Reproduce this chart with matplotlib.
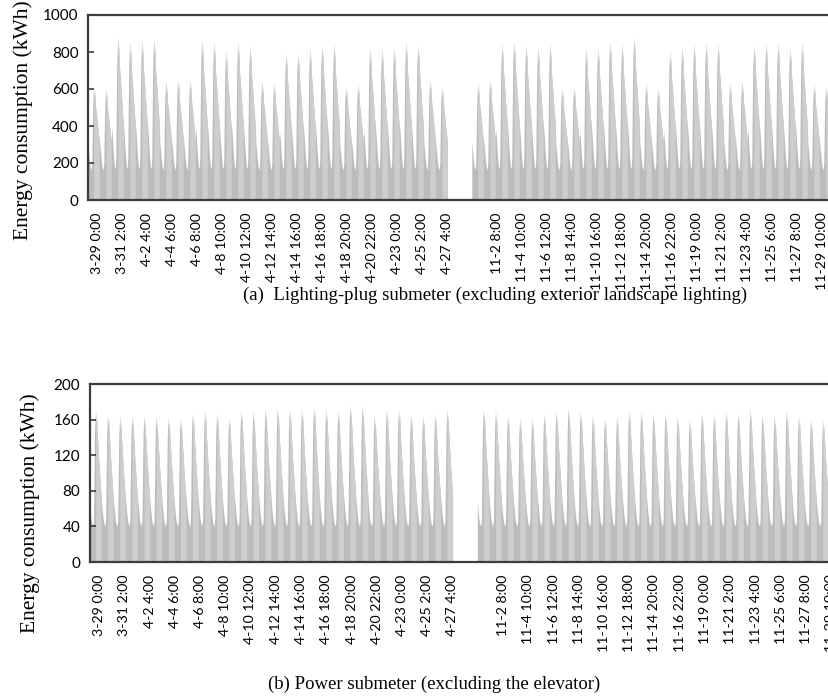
import numpy as np
import matplotlib
matplotlib.use("Agg")
import matplotlib.pyplot as plt
import matplotlib.transforms as mtransforms

# daily peak demand, one value per day
light_spring_peaks = [610, 595, 880, 855, 865, 875, 640, 650, 645, 865, 855, 805, 855, 832, 640,
                      628, 793, 796, 820, 838, 841, 613, 622, 820, 820, 823, 855, 841, 645, 612]
light_autumn_peaks = [630, 648, 847, 860, 838, 829, 841, 604, 609, 820, 823, 861, 841, 883, 630,
                      604, 807, 829, 841, 850, 847, 627, 640, 838, 850, 850, 823, 852, 622, 613]
power_spring_peaks = [170, 165, 163, 164, 164, 163, 162, 161, 167, 169, 167, 162, 170, 169, 172,
                      172, 171, 171, 174, 171, 169, 176, 175, 164, 171, 171, 165, 164, 166, 171]
power_autumn_peaks = [171, 169, 164, 161, 161, 166, 169, 172, 169, 164, 161, 163, 169, 169, 166,
                      167, 163, 159, 167, 166, 169, 167, 171, 165, 164, 169, 164, 160, 159, 157]

# night-time base load and typical hourly shape of one day (0 = base, 1 = daily peak)
light_base = 150
power_base = 38
light_shape = [0.33, 0.27, 0.2, 0.14, 0.09, 0.05, 0.03, 0.03, 0.1, 0.5, 0.82, 0.92,
               1.0, 0.86, 0.94, 0.8, 0.74, 0.69, 0.64, 0.58, 0.52, 0.46, 0.41, 0.37]
power_shape = [0.22, 0.17, 0.12, 0.08, 0.05, 0.03, 0.02, 0.02, 0.08, 0.45, 0.82, 0.93,
               1.0, 0.88, 0.95, 0.84, 0.76, 0.68, 0.6, 0.53, 0.46, 0.4, 0.33, 0.27]

gap_hours = 48  # rows with no data between 4-27 and 11-1

xtick_labels = ["3-29 0:00", "3-31 2:00", "4-2 4:00", "4-4 6:00", "4-6 8:00", "4-8 10:00",
                "4-10 12:00", "4-12 14:00", "4-14 16:00", "4-16 18:00", "4-18 20:00",
                "4-20 22:00", "4-23 0:00", "4-25 2:00", "4-27 4:00", "",
                "11-2 8:00", "11-4 10:00", "11-6 12:00", "11-8 14:00", "11-10 16:00",
                "11-12 18:00", "11-14 20:00", "11-16 22:00", "11-19 0:00", "11-21 2:00",
                "11-23 4:00", "11-25 6:00", "11-27 8:00", "11-29 10:00"]
label_step = 50


def build_series(spring, autumn, base, shape):
    vals = []
    for p in spring:
        vals += [base + (p - base) * s for s in shape]
    vals += [np.nan] * gap_hours
    for p in autumn:
        vals += [base + (p - base) * s for s in shape]
    return np.array(vals)


light = build_series(light_spring_peaks, light_autumn_peaks, light_base, light_shape)
power = build_series(power_spring_peaks, power_autumn_peaks, power_base, power_shape)

W, H = 829, 696
fig = plt.figure(figsize=(W / 100, H / 100), dpi=100)

serif = "Liberation Serif"
sans = "Lato"
dark = "#3c3c3c"


def draw(ax, y, ymax, ystep):
    x = np.arange(len(y))
    ok = ~np.isnan(y)
    ax.fill_between(x, np.nan_to_num(y), where=ok, color="#bcbcbc", linewidth=0)
    stripe = ok & ((x // 12) % 2 == 1)
    ax.fill_between(x, np.nan_to_num(y), where=stripe, color="#cecece", linewidth=0)
    ax.set_xlim(0, 1510)
    ax.set_ylim(0, ymax)
    ax.set_yticks(np.arange(0, ymax + 1, ystep))
    ax.tick_params(axis="y", direction="in", length=4, width=1.2, color=dark, pad=7)
    for lab in ax.get_yticklabels():
        lab.set_fontfamily(sans)
        lab.set_fontsize(11)
    ticks = np.arange(len(xtick_labels)) * label_step
    ax.set_xticks(ticks)
    ax.set_xticklabels(xtick_labels, rotation=90, fontsize=10.2, family=sans)
    ax.tick_params(axis="x", length=0, pad=9)
    shift = mtransforms.ScaledTranslation(0.09, 0, fig.dpi_scale_trans)
    for lab in ax.get_xticklabels():
        lab.set_transform(lab.get_transform() + shift)
    for sp in ax.spines.values():
        sp.set_color(dark)
        sp.set_linewidth(1.6)


ax1 = fig.add_axes([88.3 / W, 1 - 200 / H, 1510 * 0.5 / W, 185 / H])
draw(ax1, light, 1000, 200)
ax2 = fig.add_axes([90.0 / W, 1 - 562 / H, 1510 * 0.505 / W, 178 / H])
draw(ax2, power, 200, 40)

fig.text(23 / W, 1 - 120 / H, "Energy consumption (kWh)", rotation=90, ha="center",
         va="center", fontsize=15.5, family=serif)
fig.text(30 / W, 1 - 513 / H, "Energy consumption (kWh)", rotation=90, ha="center",
         va="center", fontsize=15.5, family=serif)
fig.text(243 / W, 1 - 295 / H, "(a)  Lighting-plug submeter (excluding exterior landscape lighting)",
         ha="left", va="center", fontsize=13.5, family=serif)
fig.text(268 / W, 1 - 684 / H, "(b) Power submeter (excluding the elevator)",
         ha="left", va="center", fontsize=13.5, family=serif)

fig.savefig("out.png", dpi=100)
